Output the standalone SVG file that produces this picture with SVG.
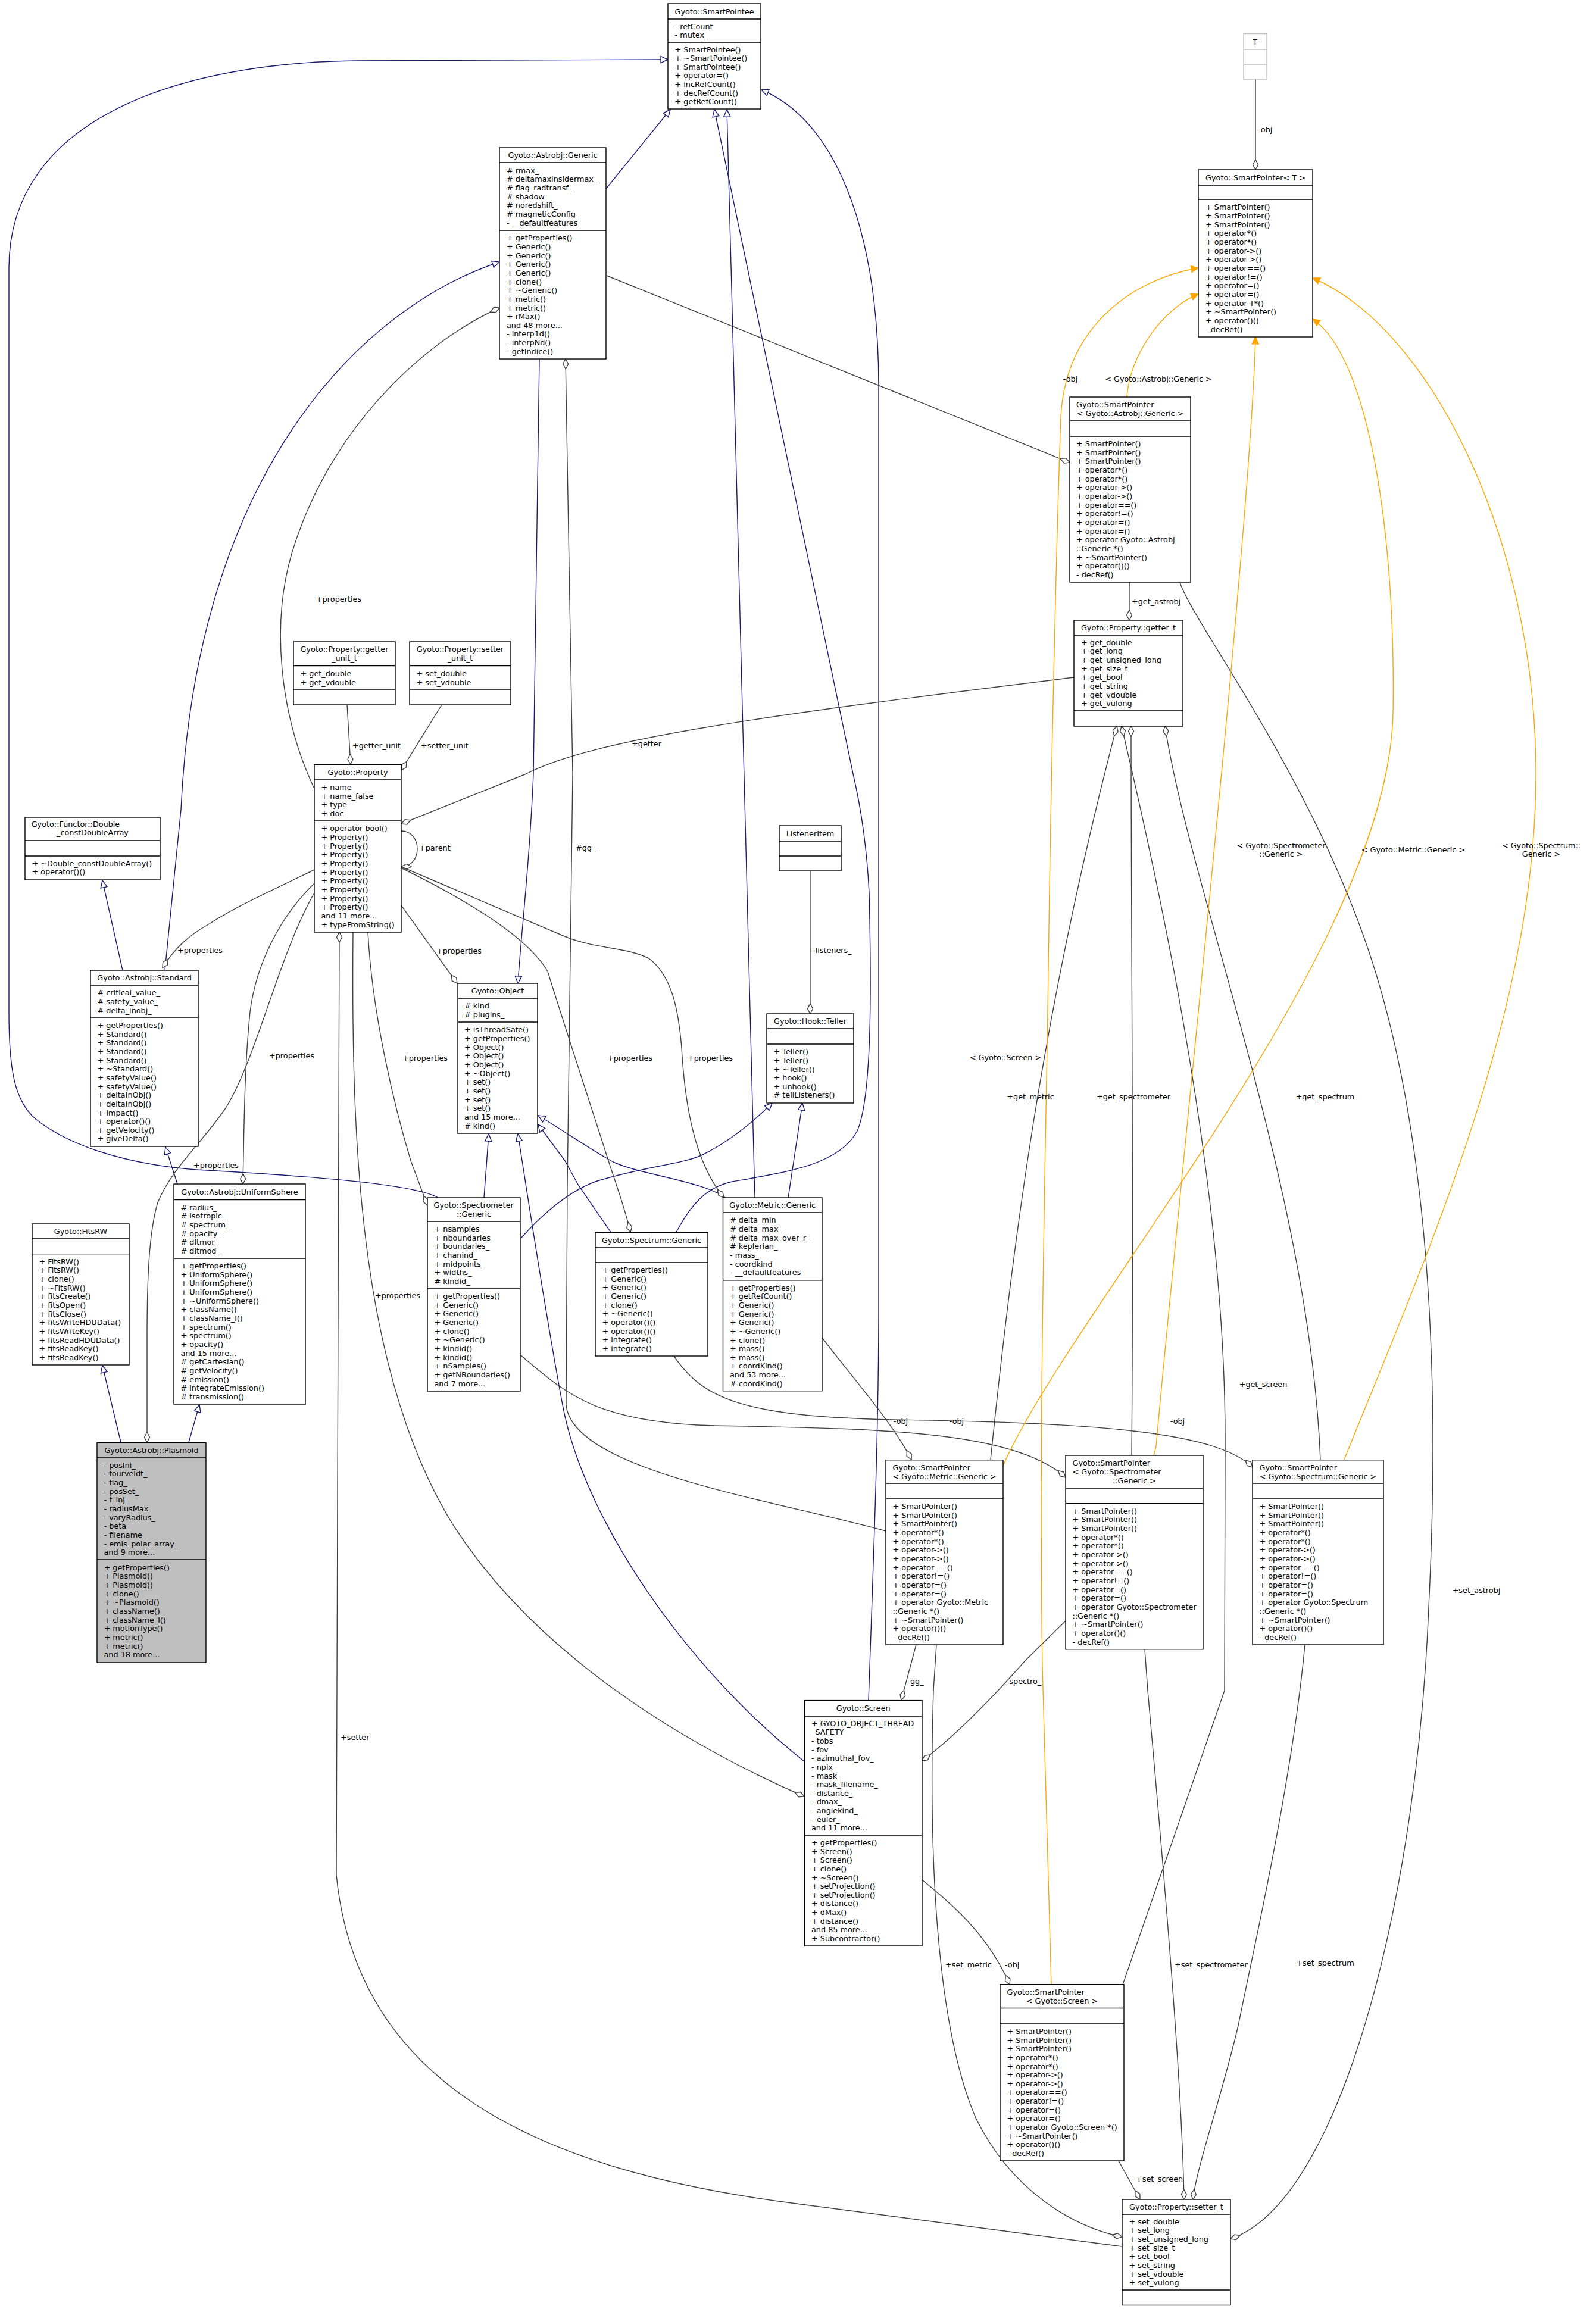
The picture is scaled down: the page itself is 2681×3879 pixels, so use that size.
<svg xmlns="http://www.w3.org/2000/svg" width="2681" height="3879" viewBox="0 0 2681 3879">
<style>
text{font-family:"DejaVu Sans","Liberation Sans",sans-serif;font-size:12.8px;fill:#000}
.m{text-anchor:middle}
.box{fill:#fff;stroke:#000;stroke-width:1.4}
.sel{fill:#bfbfbf;stroke:#000;stroke-width:1.4}
.ghost{fill:#fff;stroke:#bfbfbf;stroke-width:1.4}
.sep{fill:none;stroke:#000;stroke-width:1.4}
.gsep{fill:none;stroke:#bfbfbf;stroke-width:1.4}
.inh{fill:none;stroke:#191970;stroke-width:1.4;marker-end:url(#tri)}
.use{fill:none;stroke:#404040;stroke-width:1.4;marker-end:url(#dia)}
.tpl{fill:none;stroke:orange;stroke-width:1.4;marker-end:url(#arr)}
</style>
<defs>
<marker id="tri" markerUnits="userSpaceOnUse" markerWidth="16" markerHeight="14" refX="13" refY="7" orient="auto"><path d="M1,1.5 L13,7 L1,12.5 z" fill="#fff" stroke="#191970" stroke-width="1.4"/></marker>
<marker id="dia" markerUnits="userSpaceOnUse" markerWidth="20" markerHeight="12" refX="18" refY="6" orient="auto"><path d="M1,6 L9.5,1.5 L18,6 L9.5,10.5 z" fill="#fff" stroke="#404040" stroke-width="1.4"/></marker>
<marker id="arr" markerUnits="userSpaceOnUse" markerWidth="16" markerHeight="14" refX="13" refY="7" orient="auto"><path d="M1,1.5 L13,7 L1,12.5 z" fill="orange" stroke="orange" stroke-width="1.4"/></marker>
</defs>
<rect width="2681" height="3879" fill="#fff"/>

<g id="edges">
<!-- inheritance -->
<path class="inh" d="M1018,317 L1126,184"/>
<path class="inh" d="M736,2012 C690,1985 450,1972 330,1965 C200,1955 110,1920 60,1880 C25,1850 15,1800 15,1700 L15,450 C15,200 300,105 600,102 L1122,100"/>
<path class="inh" d="M1136,2070 C1160,2025 1185,1995 1230,1985 C1330,1968 1410,1955 1440,1900 C1462,1850 1465,1700 1460,1500 C1455,1400 1440,1330 1433,1300 L1200,184"/>
<path class="inh" d="M1268,2012 C1262,1700 1240,900 1221,184"/>
<path class="inh" d="M1459,2856 C1468,2600 1476,2400 1476,2200 L1476,650 C1476,380 1400,200 1279,151"/>
<path class="inh" d="M906,603 L896,1300 C890,1450 876,1560 870,1652"/>
<path class="inh" d="M813,2012 L821,1905"/>
<path class="inh" d="M1351,2959 C1150,2800 980,2550 945,2360 C915,2200 885,2000 870,1905"/>
<path class="inh" d="M1026,2070 L971,1990 L949,1950 L904,1889"/>
<path class="inh" d="M1223,2016 C1190,1985 1080,1975 1030,1952 C990,1930 940,1895 904,1874"/>
<path class="inh" d="M875,2080 C920,2030 960,2000 1000,1985 C1080,1960 1150,1955 1180,1940 C1230,1915 1270,1880 1297,1853"/>
<path class="inh" d="M1324,2012 L1348,1853"/>
<path class="inh" d="M206,1630 L172,1479"/>
<path class="inh" d="M277,1630 L304,1360 C330,800 600,520 839,440"/>
<path class="inh" d="M298,1989 L278,1927"/>
<path class="inh" d="M203,2423 L172,2294"/>
<path class="inh" d="M317,2423 L335,2360"/>
<!-- usage -->
<path class="use" d="M2109,133 L2109,285"/>
<path class="use" d="M583,1184 L589,1284"/>
<path class="use" d="M742,1184 L674,1294"/>
<path class="use" d="M674,1396 C710,1396 710,1456 674,1456"/>
<path class="use" d="M1804,1138 C1300,1200 1000,1240 884,1300 L674,1384"/>
<path class="use" d="M1885,3774 L1330,3701 C900,3645 600,3500 565,3150 L570,1566"/>
<path class="use" d="M527,1323 C470,1200 455,1050 490,930 C550,730 700,580 839,517"/>
<path class="use" d="M528,1461 C470,1490 400,1520 350,1553 C320,1570 295,1590 273,1626"/>
<path class="use" d="M528,1484 C470,1540 430,1620 420,1700 C410,1800 410,1900 408,1989"/>
<path class="use" d="M528,1500 C470,1600 430,1780 380,1860 C340,1920 290,1960 265,2020 C250,2070 247,2150 247,2250 L247,2423"/>
<path class="use" d="M674,1521 L768,1652"/>
<path class="use" d="M618,1566 C625,1700 660,1850 690,1950 L718,2025"/>
<path class="use" d="M674,1458 C800,1520 890,1580 920,1632 C960,1760 1000,1880 1022,1950 C1035,1990 1050,2030 1059,2070"/>
<path class="use" d="M674,1456 L946,1572 C1000,1595 1050,1590 1090,1610 C1130,1640 1140,1700 1145,1760 C1150,1850 1165,1950 1216,2012"/>
<path class="use" d="M593,1566 C590,1900 600,2300 760,2560 C900,2780 1150,2930 1351,3018"/>
<path class="use" d="M1361,1463 L1361,1703"/>
<path class="use" d="M1019,463 L1797,777"/>
<path class="use" d="M1897,978 L1897,1042"/>
<path class="use" d="M1488,2572 C1300,2520 960,2470 951,2360 L953,1990 L962,1300 L950,603"/>
<path class="use" d="M1381,2247 C1420,2300 1500,2390 1531,2452"/>
<path class="use" d="M875,2277 C950,2340 1000,2390 1200,2395 C1450,2400 1700,2400 1790,2482"/>
<path class="use" d="M1132,2278 C1180,2350 1250,2380 1500,2385 C1800,2390 2040,2400 2104,2465"/>
<path class="use" d="M1664,2452 C1700,2100 1750,1700 1876,1220"/>
<path class="use" d="M1901,2445 C1905,2000 1900,1600 1900,1220"/>
<path class="use" d="M2218,2452 C2200,2000 2000,1500 1957,1220"/>
<path class="use" d="M1886,3334 L2057,2840 L2058,2430 C2060,2000 1950,1500 1884,1220"/>
<path class="use" d="M1539,2763 L1514,2856"/>
<path class="use" d="M1790,2723 L1722,2790 C1660,2860 1600,2920 1549,2958"/>
<path class="use" d="M1549,3158 C1600,3200 1660,3250 1696,3334"/>
<path class="use" d="M1573,2763 L1568,2840 C1560,3100 1570,3400 1640,3560 C1700,3680 1800,3740 1885,3758"/>
<path class="use" d="M1923,2771 L1928,2840 C1960,3200 1985,3500 1989,3695"/>
<path class="use" d="M2192,2763 C2170,3000 2100,3300 2080,3403 C2050,3530 2010,3640 2004,3695"/>
<path class="use" d="M1879,3630 L1915,3695"/>
<path class="use" d="M1982,978 C2000,1040 2200,1300 2300,1600 C2400,1900 2420,2300 2400,2700 C2380,3200 2250,3700 2067,3761"/>
<!-- template -->
<path class="tpl" d="M1893,667 C1897,600 1950,520 2013,494"/>
<path class="tpl" d="M1766,3334 L1751,2800 C1745,2400 1755,2000 1760,1700 C1765,1300 1775,900 1782,700 C1790,550 1900,470 2013,450"/>
<path class="tpl" d="M1938,2445 L1942,2430 C1980,2000 2100,900 2109,566"/>
<path class="tpl" d="M1685,2462 C1800,2200 2330,1600 2340,1200 C2345,900 2300,600 2205,536"/>
<path class="tpl" d="M2258,2452 C2400,2100 2580,1700 2580,1300 C2580,900 2400,550 2205,467"/>
<!-- labels -->
<text x="2113" y="221.5">-obj</text>
<text x="592" y="1256.5">+getter_unit</text>
<text x="707" y="1256.5">+setter_unit</text>
<text x="704" y="1428.5">+parent</text>
<text class="m" x="1086" y="1253.5">+getter</text>
<text x="572" y="2922.5">+setter</text>
<text class="m" x="569" y="1010.5">+properties</text>
<text x="298" y="1600.5">+properties</text>
<text class="m" x="490" y="1777.5">+properties</text>
<text x="325" y="1961.5">+properties</text>
<text x="733" y="1601.5">+properties</text>
<text x="676" y="1781.5">+properties</text>
<text x="1020" y="1781.5">+properties</text>
<text x="1155" y="1781.5">+properties</text>
<text class="m" x="668" y="2180.5">+properties</text>
<text x="1365" y="1600.5">-listeners_</text>
<text x="967" y="1428.5">#gg_</text>
<text class="m" x="1798" y="640.5">-obj</text>
<text class="m" x="1946" y="640.5">&lt; Gyoto::Astrobj::Generic &gt;</text>
<text x="1901" y="1014.5">+get_astrobj</text>
<text class="m" x="1689" y="1780.5">&lt; Gyoto::Screen &gt;</text>
<text class="m" x="2152" y="1424.5">&lt; Gyoto::Spectrometer<tspan x="2152" dy="14.65">::Generic &gt;</tspan></text>
<text class="m" x="2374" y="1431.5">&lt; Gyoto::Metric::Generic &gt;</text>
<text class="m" x="2589" y="1424.5">&lt; Gyoto::Spectrum::<tspan x="2589" dy="14.65">Generic &gt;</tspan></text>
<text class="m" x="1731" y="1846.5">+get_metric</text>
<text class="m" x="1904" y="1846.5">+get_spectrometer</text>
<text class="m" x="2226" y="1846.5">+get_spectrum</text>
<text class="m" x="2122" y="2329.5">+get_screen</text>
<text class="m" x="1513" y="2391.5">-obj</text>
<text class="m" x="1607" y="2391.5">-obj</text>
<text class="m" x="1978" y="2391.5">-obj</text>
<text class="m" x="1538" y="2828.5">-gg_</text>
<text class="m" x="1720" y="2828.5">-spectro_</text>
<text x="1588" y="3305">+set_metric</text>
<text x="1688" y="3305">-obj</text>
<text x="1973" y="3305">+set_spectrometer</text>
<text class="m" x="2226" y="3301.5">+set_spectrum</text>
<text x="1908" y="3664.5">+set_screen</text>
<text class="m" x="2480" y="2675.5">+set_astrobj</text>
</g>

<g id="smartpointee">
<rect class="box" x="1122" y="6" width="156" height="177"/>
<path class="sep" d="M1122,32H1278M1122,71H1278"/>
<text class="m" x="1200" y="23.5">Gyoto::SmartPointee</text>
<text x="1133.5" y="48.7">- refCount<tspan x="1133.5" dy="14.65">- mutex_</tspan></text>
<text x="1133.5" y="87.5">+ SmartPointee()<tspan x="1133.5" dy="14.65">+ ~SmartPointee()</tspan><tspan x="1133.5" dy="14.65">+ SmartPointee()</tspan><tspan x="1133.5" dy="14.65">+ operator=()</tspan><tspan x="1133.5" dy="14.65">+ incRefCount()</tspan><tspan x="1133.5" dy="14.65">+ decRefCount()</tspan><tspan x="1133.5" dy="14.65">+ getRefCount()</tspan></text>
</g>

<g id="astrobj_generic">
<rect class="box" x="839" y="248" width="179" height="355"/>
<path class="sep" d="M839,273H1018M839,387H1018"/>
<text class="m" x="928.5" y="265">Gyoto::Astrobj::Generic</text>
<text x="851" y="290.7"># rmax_<tspan x="851" dy="14.65"># deltamaxinsidermax_</tspan><tspan x="851" dy="14.65"># flag_radtransf_</tspan><tspan x="851" dy="14.65"># shadow_</tspan><tspan x="851" dy="14.65"># noredshift_</tspan><tspan x="851" dy="14.65"># magneticConfig_</tspan><tspan x="851" dy="14.65">- __defaultfeatures</tspan></text>
<text x="851" y="404.3">+ getProperties()<tspan x="851" dy="14.65">+ Generic()</tspan><tspan x="851" dy="14.65">+ Generic()</tspan><tspan x="851" dy="14.65">+ Generic()</tspan><tspan x="851" dy="14.65">+ Generic()</tspan><tspan x="851" dy="14.65">+ clone()</tspan><tspan x="851" dy="14.65">+ ~Generic()</tspan><tspan x="851" dy="14.65">+ metric()</tspan><tspan x="851" dy="14.65">+ metric()</tspan><tspan x="851" dy="14.65">+ rMax()</tspan><tspan x="851" dy="14.65">and 48 more...</tspan><tspan x="851" dy="14.65">- interp1d()</tspan><tspan x="851" dy="14.65">- interpNd()</tspan><tspan x="851" dy="14.65">- getIndice()</tspan></text>
</g>

<g id="T">
<rect class="ghost" x="2089" y="56.5" width="39" height="76.5"/>
<path class="gsep" d="M2089,83H2128M2089,108H2128"/>
<text class="m" x="2108.5" y="74.5">T</text>
</g>

<g id="smartpointer_T">
<rect class="box" x="2013" y="285" width="192" height="281"/>
<path class="sep" d="M2013,311H2205M2013,335H2205"/>
<text class="m" x="2109" y="302.5">Gyoto::SmartPointer&lt; T &gt;</text>
<text x="2025" y="352.4">+ SmartPointer()<tspan x="2025" dy="14.65">+ SmartPointer()</tspan><tspan x="2025" dy="14.65">+ SmartPointer()</tspan><tspan x="2025" dy="14.65">+ operator*()</tspan><tspan x="2025" dy="14.65">+ operator*()</tspan><tspan x="2025" dy="14.65">+ operator-&gt;()</tspan><tspan x="2025" dy="14.65">+ operator-&gt;()</tspan><tspan x="2025" dy="14.65">+ operator==()</tspan><tspan x="2025" dy="14.65">+ operator!=()</tspan><tspan x="2025" dy="14.65">+ operator=()</tspan><tspan x="2025" dy="14.65">+ operator=()</tspan><tspan x="2025" dy="14.65">+ operator T*()</tspan><tspan x="2025" dy="14.65">+ ~SmartPointer()</tspan><tspan x="2025" dy="14.65">+ operator()()</tspan><tspan x="2025" dy="14.65">- decRef()</tspan></text>
</g>

<g id="sp_astrobj">
<rect class="box" x="1797" y="667" width="203" height="311"/>
<path class="sep" d="M1797,707H2000M1797,733H2000"/>
<text x="1808" y="684.2">Gyoto::SmartPointer</text>
<text class="m" x="1898.5" y="698.8">&lt; Gyoto::Astrobj::Generic &gt;</text>
<text x="1808" y="750.1">+ SmartPointer()<tspan x="1808" dy="14.65">+ SmartPointer()</tspan><tspan x="1808" dy="14.65">+ SmartPointer()</tspan><tspan x="1808" dy="14.65">+ operator*()</tspan><tspan x="1808" dy="14.65">+ operator*()</tspan><tspan x="1808" dy="14.65">+ operator-&gt;()</tspan><tspan x="1808" dy="14.65">+ operator-&gt;()</tspan><tspan x="1808" dy="14.65">+ operator==()</tspan><tspan x="1808" dy="14.65">+ operator!=()</tspan><tspan x="1808" dy="14.65">+ operator=()</tspan><tspan x="1808" dy="14.65">+ operator=()</tspan><tspan x="1808" dy="14.65">+ operator Gyoto::Astrobj</tspan><tspan x="1808" dy="14.65">::Generic *()</tspan><tspan x="1808" dy="14.65">+ ~SmartPointer()</tspan><tspan x="1808" dy="14.65">+ operator()()</tspan><tspan x="1808" dy="14.65">- decRef()</tspan></text>
</g>

<g id="getter_t">
<rect class="box" x="1804" y="1042" width="183" height="178"/>
<path class="sep" d="M1804,1067H1987M1804,1194H1987"/>
<text class="m" x="1895.5" y="1059">Gyoto::Property::getter_t</text>
<text x="1816" y="1083.7">+ get_double<tspan x="1816" dy="14.65">+ get_long</tspan><tspan x="1816" dy="14.65">+ get_unsigned_long</tspan><tspan x="1816" dy="14.65">+ get_size_t</tspan><tspan x="1816" dy="14.65">+ get_bool</tspan><tspan x="1816" dy="14.65">+ get_string</tspan><tspan x="1816" dy="14.65">+ get_vdouble</tspan><tspan x="1816" dy="14.65">+ get_vulong</tspan></text>
</g>

<g id="getter_unit_t">
<rect class="box" x="493" y="1078" width="171" height="106"/>
<path class="sep" d="M493,1118.5H664M493,1159H664"/>
<text class="m" x="578.5" y="1095.4">Gyoto::Property::getter<tspan x="578.5" dy="14.65">_unit_t</tspan></text>
<text x="504.5" y="1135.9">+ get_double<tspan x="504.5" dy="14.65">+ get_vdouble</tspan></text>
</g>

<g id="setter_unit_t">
<rect class="box" x="688" y="1078" width="170" height="106"/>
<path class="sep" d="M688,1118.5H858M688,1159H858"/>
<text class="m" x="773" y="1095.4">Gyoto::Property::setter<tspan x="773" dy="14.65">_unit_t</tspan></text>
<text x="699.5" y="1135.9">+ set_double<tspan x="699.5" dy="14.65">+ set_vdouble</tspan></text>
</g>

<g id="property">
<rect class="box" x="528" y="1284.5" width="146" height="281.5"/>
<path class="sep" d="M528,1310H674M528,1379H674"/>
<text class="m" x="601" y="1301.5">Gyoto::Property</text>
<text x="539.5" y="1327">+ name<tspan x="539.5" dy="14.65">+ name_false</tspan><tspan x="539.5" dy="14.65">+ type</tspan><tspan x="539.5" dy="14.65">+ doc</tspan></text>
<text x="539.5" y="1396.4">+ operator bool()<tspan x="539.5" dy="14.65">+ Property()</tspan><tspan x="539.5" dy="14.65">+ Property()</tspan><tspan x="539.5" dy="14.65">+ Property()</tspan><tspan x="539.5" dy="14.65">+ Property()</tspan><tspan x="539.5" dy="14.65">+ Property()</tspan><tspan x="539.5" dy="14.65">+ Property()</tspan><tspan x="539.5" dy="14.65">+ Property()</tspan><tspan x="539.5" dy="14.65">+ Property()</tspan><tspan x="539.5" dy="14.65">+ Property()</tspan><tspan x="539.5" dy="14.65">and 11 more...</tspan><tspan x="539.5" dy="14.65">+ typeFromString()</tspan></text>
</g>

<g id="functor">
<rect class="box" x="42" y="1373" width="227" height="105"/>
<path class="sep" d="M42,1412H269M42,1438H269"/>
<text x="52.7" y="1388.5">Gyoto::Functor::Double</text>
<text class="m" x="155.5" y="1403.1">_constDoubleArray</text>
<text x="53.5" y="1454.5">+ ~Double_constDoubleArray()<tspan x="53.5" dy="14.65">+ operator()()</tspan></text>
</g>

<g id="standard">
<rect class="box" x="152" y="1630" width="181" height="296"/>
<path class="sep" d="M152,1655H333M152,1710H333"/>
<text class="m" x="242.5" y="1647">Gyoto::Astrobj::Standard</text>
<text x="163.5" y="1672.3"># critical_value_<tspan x="163.5" dy="14.65"># safety_value_</tspan><tspan x="163.5" dy="14.65"># delta_inobj_</tspan></text>
<text x="163.5" y="1727">+ getProperties()<tspan x="163.5" dy="14.65">+ Standard()</tspan><tspan x="163.5" dy="14.65">+ Standard()</tspan><tspan x="163.5" dy="14.65">+ Standard()</tspan><tspan x="163.5" dy="14.65">+ Standard()</tspan><tspan x="163.5" dy="14.65">+ ~Standard()</tspan><tspan x="163.5" dy="14.65">+ safetyValue()</tspan><tspan x="163.5" dy="14.65">+ safetyValue()</tspan><tspan x="163.5" dy="14.65">+ deltaInObj()</tspan><tspan x="163.5" dy="14.65">+ deltaInObj()</tspan><tspan x="163.5" dy="14.65">+ Impact()</tspan><tspan x="163.5" dy="14.65">+ operator()()</tspan><tspan x="163.5" dy="14.65">+ getVelocity()</tspan><tspan x="163.5" dy="14.65">+ giveDelta()</tspan></text>
</g>

<g id="object">
<rect class="box" x="769" y="1652" width="134" height="252"/>
<path class="sep" d="M769,1677H903M769,1717H903"/>
<text class="m" x="836" y="1669">Gyoto::Object</text>
<text x="780" y="1694.2"># kind_<tspan x="780" dy="14.65"># plugins_</tspan></text>
<text x="780" y="1734.4">+ isThreadSafe()<tspan x="780" dy="14.65">+ getProperties()</tspan><tspan x="780" dy="14.65">+ Object()</tspan><tspan x="780" dy="14.65">+ Object()</tspan><tspan x="780" dy="14.65">+ Object()</tspan><tspan x="780" dy="14.65">+ ~Object()</tspan><tspan x="780" dy="14.65">+ set()</tspan><tspan x="780" dy="14.65">+ set()</tspan><tspan x="780" dy="14.65">+ set()</tspan><tspan x="780" dy="14.65">+ set()</tspan><tspan x="780" dy="14.65">and 15 more...</tspan><tspan x="780" dy="14.65"># kind()</tspan></text>
</g>

<g id="listeneritem">
<rect class="box" x="1309" y="1387" width="104" height="76"/>
<path class="sep" d="M1309,1413H1413M1309,1438H1413"/>
<text class="m" x="1361" y="1404.5">ListenerItem</text>
</g>

<g id="teller">
<rect class="box" x="1288" y="1703" width="146" height="150"/>
<path class="sep" d="M1288,1728H1434M1288,1754H1434"/>
<text class="m" x="1361" y="1720">Gyoto::Hook::Teller</text>
<text x="1299.5" y="1771.2">+ Teller()<tspan x="1299.5" dy="14.65">+ Teller()</tspan><tspan x="1299.5" dy="14.65">+ ~Teller()</tspan><tspan x="1299.5" dy="14.65">+ hook()</tspan><tspan x="1299.5" dy="14.65">+ unhook()</tspan><tspan x="1299.5" dy="14.65"># tellListeners()</tspan></text>
</g>

<g id="spectrometer_generic">
<rect class="box" x="718" y="2012" width="156" height="325"/>
<path class="sep" d="M718,2052H874M718,2165H874"/>
<text x="728.5" y="2029.2">Gyoto::Spectrometer</text>
<text class="m" x="796" y="2043.8">::Generic</text>
<text x="729.5" y="2069">+ nsamples_<tspan x="729.5" dy="14.65">+ nboundaries_</tspan><tspan x="729.5" dy="14.65">+ boundaries_</tspan><tspan x="729.5" dy="14.65">+ chanind_</tspan><tspan x="729.5" dy="14.65">+ midpoints_</tspan><tspan x="729.5" dy="14.65">+ widths_</tspan><tspan x="729.5" dy="14.65"># kindid_</tspan></text>
<text x="729.5" y="2182.1">+ getProperties()<tspan x="729.5" dy="14.65">+ Generic()</tspan><tspan x="729.5" dy="14.65">+ Generic()</tspan><tspan x="729.5" dy="14.65">+ Generic()</tspan><tspan x="729.5" dy="14.65">+ clone()</tspan><tspan x="729.5" dy="14.65">+ ~Generic()</tspan><tspan x="729.5" dy="14.65">+ kindid()</tspan><tspan x="729.5" dy="14.65">+ kindid()</tspan><tspan x="729.5" dy="14.65">+ nSamples()</tspan><tspan x="729.5" dy="14.65">+ getNBoundaries()</tspan><tspan x="729.5" dy="14.65">and 7 more...</tspan></text>
</g>

<g id="spectrum_generic">
<rect class="box" x="1000" y="2070.7" width="189" height="207.3"/>
<path class="sep" d="M1000,2096H1189M1000,2121H1189"/>
<text class="m" x="1094.5" y="2088">Gyoto::Spectrum::Generic</text>
<text x="1011.5" y="2138.1">+ getProperties()<tspan x="1011.5" dy="14.65">+ Generic()</tspan><tspan x="1011.5" dy="14.65">+ Generic()</tspan><tspan x="1011.5" dy="14.65">+ Generic()</tspan><tspan x="1011.5" dy="14.65">+ clone()</tspan><tspan x="1011.5" dy="14.65">+ ~Generic()</tspan><tspan x="1011.5" dy="14.65">+ operator()()</tspan><tspan x="1011.5" dy="14.65">+ operator()()</tspan><tspan x="1011.5" dy="14.65">+ integrate()</tspan><tspan x="1011.5" dy="14.65">+ integrate()</tspan></text>
</g>

<g id="metric_generic">
<rect class="box" x="1214.5" y="2012" width="166.5" height="324.7"/>
<path class="sep" d="M1214.5,2037H1381M1214.5,2150.7H1381"/>
<text class="m" x="1297.75" y="2029">Gyoto::Metric::Generic</text>
<text x="1226" y="2054.4"># delta_min_<tspan x="1226" dy="14.65"># delta_max_</tspan><tspan x="1226" dy="14.65"># delta_max_over_r_</tspan><tspan x="1226" dy="14.65"># keplerian_</tspan><tspan x="1226" dy="14.65">- mass_</tspan><tspan x="1226" dy="14.65">- coordkind_</tspan><tspan x="1226" dy="14.65">- __defaultfeatures</tspan></text>
<text x="1226" y="2167.6">+ getProperties()<tspan x="1226" dy="14.65">+ getRefCount()</tspan><tspan x="1226" dy="14.65">+ Generic()</tspan><tspan x="1226" dy="14.65">+ Generic()</tspan><tspan x="1226" dy="14.65">+ Generic()</tspan><tspan x="1226" dy="14.65">+ ~Generic()</tspan><tspan x="1226" dy="14.65">+ clone()</tspan><tspan x="1226" dy="14.65">+ mass()</tspan><tspan x="1226" dy="14.65">+ mass()</tspan><tspan x="1226" dy="14.65">+ coordKind()</tspan><tspan x="1226" dy="14.65">and 53 more...</tspan><tspan x="1226" dy="14.65"># coordKind()</tspan></text>
</g>

<g id="fitsrw">
<rect class="box" x="54" y="2056" width="163" height="237"/>
<path class="sep" d="M54,2081H217M54,2106.6H217"/>
<text class="m" x="135.5" y="2073">Gyoto::FitsRW</text>
<text x="65.5" y="2123.7">+ FitsRW()<tspan x="65.5" dy="14.65">+ FitsRW()</tspan><tspan x="65.5" dy="14.65">+ clone()</tspan><tspan x="65.5" dy="14.65">+ ~FitsRW()</tspan><tspan x="65.5" dy="14.65">+ fitsCreate()</tspan><tspan x="65.5" dy="14.65">+ fitsOpen()</tspan><tspan x="65.5" dy="14.65">+ fitsClose()</tspan><tspan x="65.5" dy="14.65">+ fitsWriteHDUData()</tspan><tspan x="65.5" dy="14.65">+ fitsWriteKey()</tspan><tspan x="65.5" dy="14.65">+ fitsReadHDUData()</tspan><tspan x="65.5" dy="14.65">+ fitsReadKey()</tspan><tspan x="65.5" dy="14.65">+ fitsReadKey()</tspan></text>
</g>

<g id="uniformsphere">
<rect class="box" x="292" y="1989" width="221" height="370"/>
<path class="sep" d="M292,2015.6H513M292,2114H513"/>
<text class="m" x="402.5" y="2006.5">Gyoto::Astrobj::UniformSphere</text>
<text x="303.5" y="2032.7"># radius_<tspan x="303.5" dy="14.65"># isotropic_</tspan><tspan x="303.5" dy="14.65"># spectrum_</tspan><tspan x="303.5" dy="14.65"># opacity_</tspan><tspan x="303.5" dy="14.65"># dltmor_</tspan><tspan x="303.5" dy="14.65"># dltmod_</tspan></text>
<text x="303.5" y="2131.1">+ getProperties()<tspan x="303.5" dy="14.65">+ UniformSphere()</tspan><tspan x="303.5" dy="14.65">+ UniformSphere()</tspan><tspan x="303.5" dy="14.65">+ UniformSphere()</tspan><tspan x="303.5" dy="14.65">+ ~UniformSphere()</tspan><tspan x="303.5" dy="14.65">+ className()</tspan><tspan x="303.5" dy="14.65">+ className_l()</tspan><tspan x="303.5" dy="14.65">+ spectrum()</tspan><tspan x="303.5" dy="14.65">+ spectrum()</tspan><tspan x="303.5" dy="14.65">+ opacity()</tspan><tspan x="303.5" dy="14.65">and 15 more...</tspan><tspan x="303.5" dy="14.65"># getCartesian()</tspan><tspan x="303.5" dy="14.65"># getVelocity()</tspan><tspan x="303.5" dy="14.65"># emission()</tspan><tspan x="303.5" dy="14.65"># integrateEmission()</tspan><tspan x="303.5" dy="14.65"># transmission()</tspan></text>
</g>

<g id="plasmoid">
<rect class="sel" x="163" y="2423.5" width="183" height="369.5"/>
<path class="sep" d="M163,2449H346M163,2620H346"/>
<text class="m" x="254.5" y="2440.5">Gyoto::Astrobj::Plasmoid</text>
<text x="174.5" y="2465.7">- posIni_<tspan x="174.5" dy="14.65">- fourveldt_</tspan><tspan x="174.5" dy="14.65">- flag_</tspan><tspan x="174.5" dy="14.65">- posSet_</tspan><tspan x="174.5" dy="14.65">- t_inj_</tspan><tspan x="174.5" dy="14.65">- radiusMax_</tspan><tspan x="174.5" dy="14.65">- varyRadius_</tspan><tspan x="174.5" dy="14.65">- beta_</tspan><tspan x="174.5" dy="14.65">- filename_</tspan><tspan x="174.5" dy="14.65">- emis_polar_array_</tspan><tspan x="174.5" dy="14.65">and 9 more...</tspan></text>
<text x="174.5" y="2637.7">+ getProperties()<tspan x="174.5" dy="14.65">+ Plasmoid()</tspan><tspan x="174.5" dy="14.65">+ Plasmoid()</tspan><tspan x="174.5" dy="14.65">+ clone()</tspan><tspan x="174.5" dy="14.65">+ ~Plasmoid()</tspan><tspan x="174.5" dy="14.65">+ className()</tspan><tspan x="174.5" dy="14.65">+ className_l()</tspan><tspan x="174.5" dy="14.65">+ motionType()</tspan><tspan x="174.5" dy="14.65">+ metric()</tspan><tspan x="174.5" dy="14.65">+ metric()</tspan><tspan x="174.5" dy="14.65">and 18 more...</tspan></text>
</g>

<g id="sp_metric">
<rect class="box" x="1488" y="2452.7" width="197" height="310.3"/>
<path class="sep" d="M1488,2492H1685M1488,2518H1685"/>
<text x="1499.5" y="2469.8">Gyoto::SmartPointer</text>
<text class="m" x="1586.5" y="2484.5">&lt; Gyoto::Metric::Generic &gt;</text>
<text x="1499.5" y="2535.1">+ SmartPointer()<tspan x="1499.5" dy="14.65">+ SmartPointer()</tspan><tspan x="1499.5" dy="14.65">+ SmartPointer()</tspan><tspan x="1499.5" dy="14.65">+ operator*()</tspan><tspan x="1499.5" dy="14.65">+ operator*()</tspan><tspan x="1499.5" dy="14.65">+ operator-&gt;()</tspan><tspan x="1499.5" dy="14.65">+ operator-&gt;()</tspan><tspan x="1499.5" dy="14.65">+ operator==()</tspan><tspan x="1499.5" dy="14.65">+ operator!=()</tspan><tspan x="1499.5" dy="14.65">+ operator=()</tspan><tspan x="1499.5" dy="14.65">+ operator=()</tspan><tspan x="1499.5" dy="14.65">+ operator Gyoto::Metric</tspan><tspan x="1499.5" dy="14.65">::Generic *()</tspan><tspan x="1499.5" dy="14.65">+ ~SmartPointer()</tspan><tspan x="1499.5" dy="14.65">+ operator()()</tspan><tspan x="1499.5" dy="14.65">- decRef()</tspan></text>
</g>

<g id="sp_spectrometer">
<rect class="box" x="1790" y="2445" width="231" height="325.7"/>
<path class="sep" d="M1790,2500H2021M1790,2525.7H2021"/>
<text x="1801.5" y="2462.3">Gyoto::SmartPointer<tspan x="1801.5" dy="14.65">&lt; Gyoto::Spectrometer</tspan></text>
<text class="m" x="1905.5" y="2491.6">::Generic &gt;</text>
<text x="1801.5" y="2542.8">+ SmartPointer()<tspan x="1801.5" dy="14.65">+ SmartPointer()</tspan><tspan x="1801.5" dy="14.65">+ SmartPointer()</tspan><tspan x="1801.5" dy="14.65">+ operator*()</tspan><tspan x="1801.5" dy="14.65">+ operator*()</tspan><tspan x="1801.5" dy="14.65">+ operator-&gt;()</tspan><tspan x="1801.5" dy="14.65">+ operator-&gt;()</tspan><tspan x="1801.5" dy="14.65">+ operator==()</tspan><tspan x="1801.5" dy="14.65">+ operator!=()</tspan><tspan x="1801.5" dy="14.65">+ operator=()</tspan><tspan x="1801.5" dy="14.65">+ operator=()</tspan><tspan x="1801.5" dy="14.65">+ operator Gyoto::Spectrometer</tspan><tspan x="1801.5" dy="14.65">::Generic *()</tspan><tspan x="1801.5" dy="14.65">+ ~SmartPointer()</tspan><tspan x="1801.5" dy="14.65">+ operator()()</tspan><tspan x="1801.5" dy="14.65">- decRef()</tspan></text>
</g>

<g id="sp_spectrum">
<rect class="box" x="2104" y="2452.7" width="220" height="310.3"/>
<path class="sep" d="M2104,2492H2324M2104,2518H2324"/>
<text x="2115.5" y="2469.8">Gyoto::SmartPointer</text>
<text class="m" x="2214" y="2484.5">&lt; Gyoto::Spectrum::Generic &gt;</text>
<text x="2115.5" y="2535.1">+ SmartPointer()<tspan x="2115.5" dy="14.65">+ SmartPointer()</tspan><tspan x="2115.5" dy="14.65">+ SmartPointer()</tspan><tspan x="2115.5" dy="14.65">+ operator*()</tspan><tspan x="2115.5" dy="14.65">+ operator*()</tspan><tspan x="2115.5" dy="14.65">+ operator-&gt;()</tspan><tspan x="2115.5" dy="14.65">+ operator-&gt;()</tspan><tspan x="2115.5" dy="14.65">+ operator==()</tspan><tspan x="2115.5" dy="14.65">+ operator!=()</tspan><tspan x="2115.5" dy="14.65">+ operator=()</tspan><tspan x="2115.5" dy="14.65">+ operator=()</tspan><tspan x="2115.5" dy="14.65">+ operator Gyoto::Spectrum</tspan><tspan x="2115.5" dy="14.65">::Generic *()</tspan><tspan x="2115.5" dy="14.65">+ ~SmartPointer()</tspan><tspan x="2115.5" dy="14.65">+ operator()()</tspan><tspan x="2115.5" dy="14.65">- decRef()</tspan></text>
</g>

<g id="screen">
<rect class="box" x="1351.5" y="2856.6" width="197.5" height="412.4"/>
<path class="sep" d="M1351.5,2883H1549M1351.5,3083H1549"/>
<text class="m" x="1450.25" y="2874.3">Gyoto::Screen</text>
<text x="1363" y="2899.6">+ GYOTO_OBJECT_THREAD<tspan x="1363" dy="14.65">_SAFETY</tspan><tspan x="1363" dy="14.65">- tobs_</tspan><tspan x="1363" dy="14.65">- fov_</tspan><tspan x="1363" dy="14.65">- azimuthal_fov_</tspan><tspan x="1363" dy="14.65">- npix_</tspan><tspan x="1363" dy="14.65">- mask_</tspan><tspan x="1363" dy="14.65">- mask_filename_</tspan><tspan x="1363" dy="14.65">- distance_</tspan><tspan x="1363" dy="14.65">- dmax_</tspan><tspan x="1363" dy="14.65">- anglekind_</tspan><tspan x="1363" dy="14.65">- euler_</tspan><tspan x="1363" dy="14.65">and 11 more...</tspan></text>
<text x="1363" y="3099.9">+ getProperties()<tspan x="1363" dy="14.65">+ Screen()</tspan><tspan x="1363" dy="14.65">+ Screen()</tspan><tspan x="1363" dy="14.65">+ clone()</tspan><tspan x="1363" dy="14.65">+ ~Screen()</tspan><tspan x="1363" dy="14.65">+ setProjection()</tspan><tspan x="1363" dy="14.65">+ setProjection()</tspan><tspan x="1363" dy="14.65">+ distance()</tspan><tspan x="1363" dy="14.65">+ dMax()</tspan><tspan x="1363" dy="14.65">+ distance()</tspan><tspan x="1363" dy="14.65">and 85 more...</tspan><tspan x="1363" dy="14.65">+ Subcontractor()</tspan></text>
</g>

<g id="sp_screen">
<rect class="box" x="1680" y="3333.7" width="208" height="296.3"/>
<path class="sep" d="M1680,3373.5H1888M1680,3400H1888"/>
<text x="1691.5" y="3350.8">Gyoto::SmartPointer</text>
<text class="m" x="1784" y="3365.5">&lt; Gyoto::Screen &gt;</text>
<text x="1691.5" y="3416.9">+ SmartPointer()<tspan x="1691.5" dy="14.65">+ SmartPointer()</tspan><tspan x="1691.5" dy="14.65">+ SmartPointer()</tspan><tspan x="1691.5" dy="14.65">+ operator*()</tspan><tspan x="1691.5" dy="14.65">+ operator*()</tspan><tspan x="1691.5" dy="14.65">+ operator-&gt;()</tspan><tspan x="1691.5" dy="14.65">+ operator-&gt;()</tspan><tspan x="1691.5" dy="14.65">+ operator==()</tspan><tspan x="1691.5" dy="14.65">+ operator!=()</tspan><tspan x="1691.5" dy="14.65">+ operator=()</tspan><tspan x="1691.5" dy="14.65">+ operator=()</tspan><tspan x="1691.5" dy="14.65">+ operator Gyoto::Screen *()</tspan><tspan x="1691.5" dy="14.65">+ ~SmartPointer()</tspan><tspan x="1691.5" dy="14.65">+ operator()()</tspan><tspan x="1691.5" dy="14.65">- decRef()</tspan></text>
</g>

<g id="setter_t">
<rect class="box" x="1885" y="3695" width="182" height="177.5"/>
<path class="sep" d="M1885,3720H2067M1885,3847H2067"/>
<text class="m" x="1976" y="3712">Gyoto::Property::setter_t</text>
<text x="1896.5" y="3736.7">+ set_double<tspan x="1896.5" dy="14.65">+ set_long</tspan><tspan x="1896.5" dy="14.65">+ set_unsigned_long</tspan><tspan x="1896.5" dy="14.65">+ set_size_t</tspan><tspan x="1896.5" dy="14.65">+ set_bool</tspan><tspan x="1896.5" dy="14.65">+ set_string</tspan><tspan x="1896.5" dy="14.65">+ set_vdouble</tspan><tspan x="1896.5" dy="14.65">+ set_vulong</tspan></text>
</g>
</svg>
